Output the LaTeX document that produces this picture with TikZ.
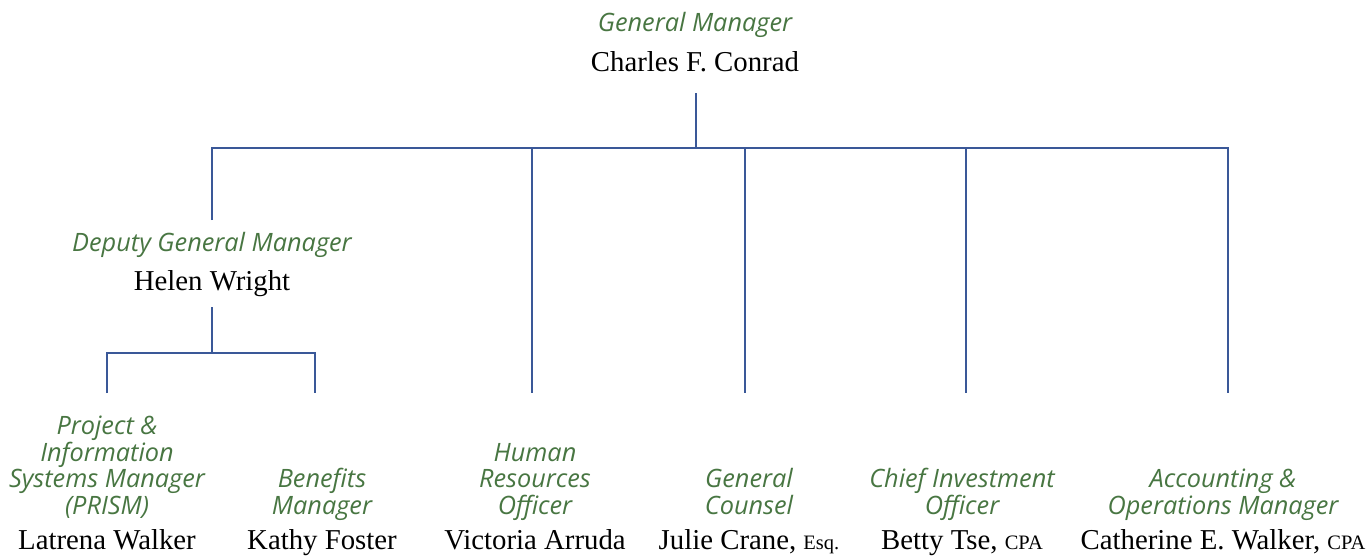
\documentclass[tikz,border=0pt]{standalone}
\usepackage{fontspec}
\setmainfont{Liberation Serif}
\newfontfamily\rolefont{Open Sans}
\definecolor{rolegreen}{RGB}{72,118,66}
\definecolor{lineblue}{RGB}{58,88,152}
\begin{document}
\begin{tikzpicture}[x=1pt,y=-1pt,
  role/.style={anchor=base,inner sep=0pt,align=center,text=rolegreen,
    font=\rolefont\itshape\fontsize{25.3}{26.5}\selectfont},
  person/.style={anchor=base,inner sep=0pt,
    font=\fontsize{28.8}{32}\selectfont},
  link/.style={draw=lineblue,line width=2.7pt}]
\useasboundingbox (0,0) rectangle (1367,555);
\newcommand\suffix[1]{{\fontsize{20.5}{24}\selectfont #1}}

% General manager
\node[role] (gm) at (695,31) {General Manager};
\node[person] (gmn) at (695,71) {Charles F. Conrad};

% Deputy general manager
\node[role] (dgm) at (212,251) {Deputy General Manager};
\node[person] (dgmn) at (212,290) {Helen Wright};

% Staff positions
\node[role] (prism) at (107,514) {Project \&\\Information\\Systems Manager\\(PRISM)};
\node[person] (prismn) at (107,549) {Latrena Walker};
\node[role] (ben) at (322,514) {Benefits\\Manager};
\node[person] (benn) at (322,549) {Kathy Foster};
\node[role] (hr) at (535,514) {Human\\Resources\\Officer};
\node[person] (hrn) at (535,549) {Victoria Arruda};
\node[role] (gc) at (749,514) {General\\Counsel};
\node[person] (gcn) at (749,549) {Julie Crane, \suffix{Esq.}};
\node[role] (cio) at (962,514) {Chief Investment\\Officer};
\node[person] (cion) at (962,549) {Betty Tse, \suffix{CPA}};
\node[role] (acc) at (1223,514) {Accounting \&\\Operations Manager};
\node[person] (accn) at (1223,549) {Catherine E. Walker, \suffix{CPA}};

% Junctions and line ends
\coordinate (gmfoot) at (696,93);
\coordinate (gmbar) at (696,148);
\coordinate (barL) at (212,148);
\coordinate (barR) at (1228,148);
\coordinate (hrtop) at (532,148);
\coordinate (gctop) at (745,148);
\coordinate (ciotop) at (966,148);
\coordinate (dgmtop) at (212,220);
\coordinate (hrend) at (532,393);
\coordinate (gcend) at (745,393);
\coordinate (cioend) at (966,393);
\coordinate (accend) at (1228,393);
\coordinate (dgmfoot) at (212,307);
\coordinate (dgmbar) at (212,353);
\coordinate (subL) at (107,353);
\coordinate (subR) at (315,353);
\coordinate (prismend) at (107,393);
\coordinate (benend) at (315,393);

\draw[link] (gmfoot) -- (gmbar);
\draw[link] (dgmtop) -- (barL) -- (barR) -- (accend);
\draw[link] (hrtop) -- (hrend);
\draw[link] (gctop) -- (gcend);
\draw[link] (ciotop) -- (cioend);
\draw[link] (dgmfoot) -- (dgmbar);
\draw[link] (prismend) -- (subL) -- (subR) -- (benend);
\end{tikzpicture}
\end{document}
